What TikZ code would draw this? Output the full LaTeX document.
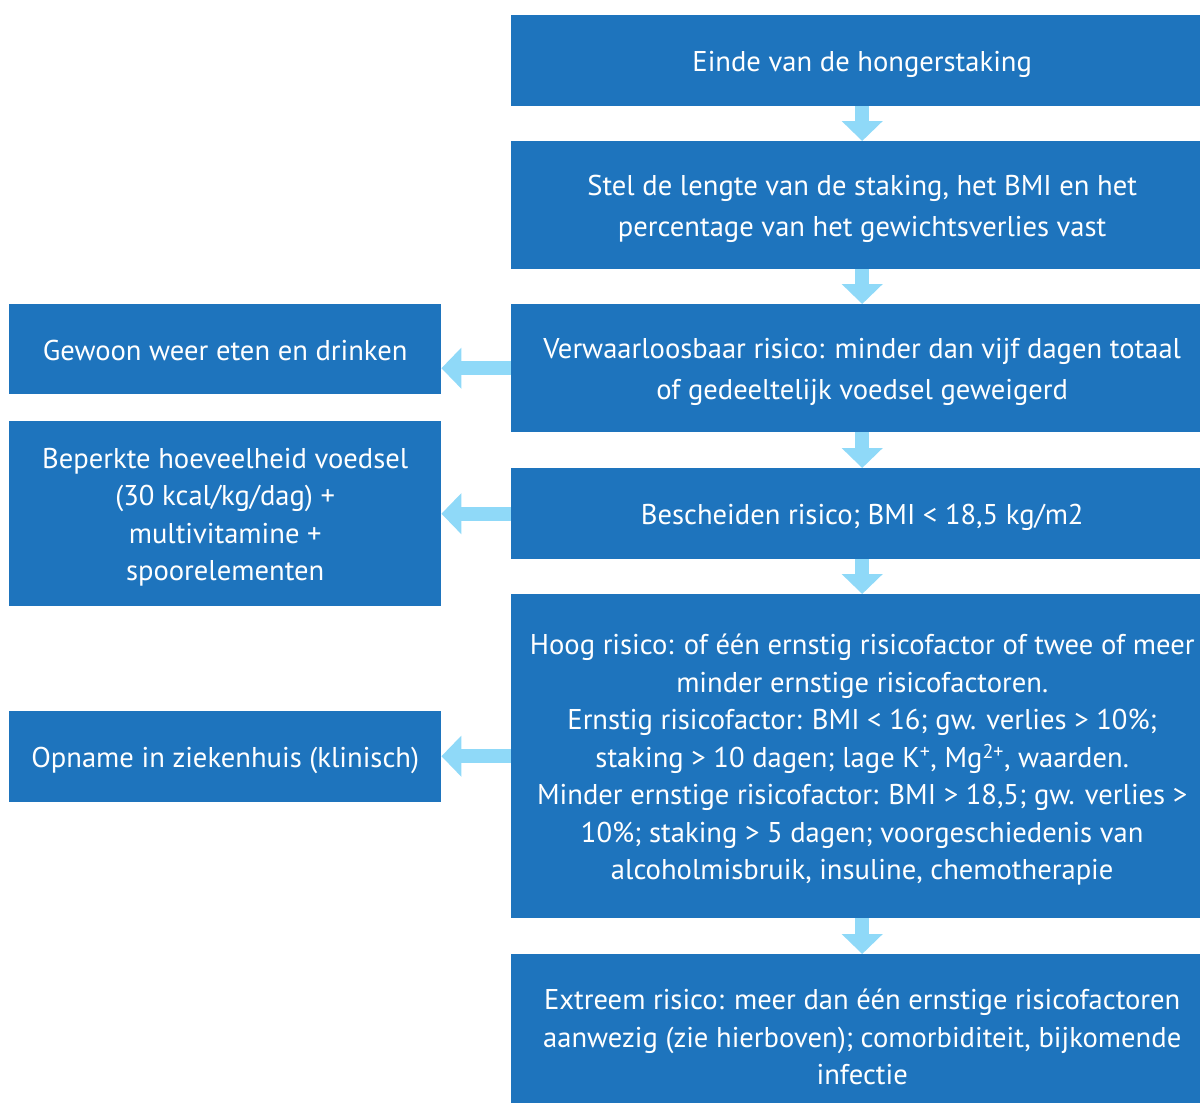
\documentclass[tikz,border=0pt]{standalone}
\usepackage{fontspec}
\setmainfont{PT Sans}
\usetikzlibrary{arrows.meta}
\definecolor{boxblue}{HTML}{1E74BD}
\definecolor{arrowblue}{HTML}{8FD9F8}
\newcommand{\regel}{\rule[-9pt]{0pt}{40pt}}
\tikzset{
  stap/.style={fill=boxblue, text=white, align=center, inner sep=0pt, anchor=north west, minimum width=702pt},
  actie/.style={stap, minimum width=432pt},
  pijl/.style={draw=arrowblue, line width=14pt, -{Triangle[width=40pt,length=20pt,fill=arrowblue]}}
}
\begin{document}
\begin{tikzpicture}[x=1pt,y=-1pt,font=\fontsize{28.6}{37.5}\selectfont]
\clip (0,0) rectangle (1200,1103);
% rechter kolom
\node[stap, minimum height=91pt] (einde) at (511,15) {\regel Einde van de hongerstaking};
\node[stap, minimum height=128pt] (stel) at (511,141) {\regel Stel de lengte van de staking, het BMI en het\\percentage van het gewichtsverlies vast\regel};
\node[stap, minimum height=128pt] (verw) at (511,304) {\regel Verwaarloosbaar risico: minder dan vijf dagen totaal\\of gedeeltelijk voedsel geweigerd\regel};
\node[stap, minimum height=91pt] (besch) at (511,468) {\regel Bescheiden risico; BMI < 18,5 kg/m2};
\node[stap, minimum height=324pt] (hoog) at (511,594) {\regel Hoog risico: of één ernstig risicofactor of twee of meer\\minder ernstige risicofactoren.\\Ernstig risicofactor: BMI < 16; gw. verlies > 10\%;\\staking > 10 dagen; lage K\textsuperscript{+}, Mg\textsuperscript{2+}, waarden.\\Minder ernstige risicofactor: BMI > 18,5; gw. verlies >\\10\%; staking > 5 dagen; voorgeschiedenis van\\alcoholmisbruik, insuline, chemotherapie\regel};
\node[stap, minimum height=164pt] (extreem) at (511,954) {\regel Extreem risico: meer dan één ernstige risicofactoren\\aanwezig (zie hierboven); comorbiditeit, bijkomende\\infectie\regel};
% linker kolom
\node[actie, minimum height=90pt] (gewoon) at (9,304) {\regel Gewoon weer eten en drinken};
\node[actie, minimum height=185pt] (beperkt) at (9,421) {\regel Beperkte hoeveelheid voedsel\\(30 kcal/kg/dag) +\\multivitamine +\\spoorelementen\regel};
\node[actie, minimum height=91pt] (opname) at (9,711) {\regel Opname in ziekenhuis (klinisch)};
% pijlen
\draw[pijl] (einde) -- (stel);
\draw[pijl] (stel) -- (verw);
\draw[pijl] (verw) -- (besch);
\draw[pijl] (besch) -- (hoog);
\draw[pijl] (hoog) -- (extreem);
\draw[pijl] (verw.west) -- (verw.west -| gewoon.east);
\draw[pijl] (besch.west) -- (besch.west -| beperkt.east);
\draw[pijl] (hoog.west) -- (hoog.west -| opname.east);
\end{tikzpicture}
\end{document}
